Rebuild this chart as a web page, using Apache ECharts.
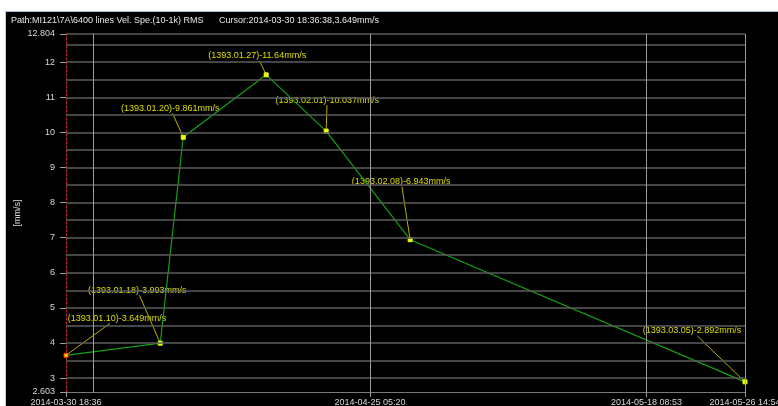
<!DOCTYPE html>
<html>
<head>
<meta charset="utf-8">
<script src="https://cdn.jsdelivr.net/npm/echarts@6/dist/echarts.min.js"></script>
<style>
  html, body { margin: 0; padding: 0; background: #fff; width: 778px; height: 406px; overflow: hidden; }
  #frame { position: absolute; left: 5px; top: 11px; width: 772px; height: 394px;
           border-top: 1px solid #a9c0d8; border-left: 1px solid #c8c8c8; background: #000; }
  #chart { width: 772px; height: 394px; }
</style>
</head>
<body>
<div id="frame"><div id="chart"></div></div>
<script>
// Measurement times (UTC) and RMS velocity readings
const pointTimes  = ['2014-03-30 18:36:38', '2014-04-07 15:58', '2014-04-09 14:10', '2014-04-16 12:50',
                     '2014-04-21 13:20', '2014-04-28 14:06', '2014-05-26 14:54'];
const shamsiDates = ['1393.01.10', '1393.01.18', '1393.01.20', '1393.01.27', '1393.02.01', '1393.02.08', '1393.03.05'];
const rmsValues   = [3.649, 3.993, 9.861, 11.64, 10.037, 6.943, 2.892];

// Axis ranges, ticks and grid lines
const yRange       = [2.603, 12.804];
const yTickValues  = [2.603, 3, 4, 5, 6, 7, 8, 9, 10, 11, 12, 12.804];
const yGridValues  = [3, 3.5, 4, 4.5, 5, 5.5, 6, 6.5, 7, 7.5, 8, 8.5, 9, 9.5, 10, 10.5, 11, 11.5, 12, 12.5];
const xLabelTimes  = ['2014-03-30 18:36:38', '2014-04-25 05:20', '2014-05-18 08:53', '2014-05-26 14:54'];
const xGridTimes   = ['2014-04-02 01:47', '2014-04-25 05:20', '2014-05-18 08:53'];

const headerPath   = 'Path:MI121\\7A\\6400 lines Vel. Spe.(10-1k) RMS';
const headerCursor = 'Cursor:2014-03-30 18:36:38,3.649mm/s';

// Pixel offset of each callout's centre from its point
const calloutShift = [[51, -37], [-23, -53], [-13, -29], [-9, -19], [1, -31], [-9, -58], [-53, -51]];

function toMs(s) {
  const m = s.match(/(\d+)-(\d+)-(\d+) (\d+):(\d+)(?::(\d+))?/);
  return Date.UTC(+m[1], +m[2] - 1, +m[3], +m[4], +m[5], +(m[6] || 0));
}
function pad(n) { return (n < 10 ? '0' : '') + n; }
function fmtTime(ms) {
  const d = new Date(ms);
  return d.getUTCFullYear() + '-' + pad(d.getUTCMonth() + 1) + '-' + pad(d.getUTCDate()) +
         ' ' + pad(d.getUTCHours()) + ':' + pad(d.getUTCMinutes());
}

const xs = pointTimes.map(toMs);
const xMin = xs[0], xMax = xs[xs.length - 1];
const FONT = '"Liberation Sans", Arial, sans-serif';
const CALLOUT_H = 10;

// Callout: text box near the point, with a leader aimed at the text centre
function renderCallout(params, api) {
  const i = api.value(2);
  const p = api.coord([api.value(0), api.value(1)]);
  const s = calloutShift[i];
  const cx = p[0] + s[0], cy = p[1] + s[1];
  const by = cy + CALLOUT_H / 2;
  const t = (p[1] - by) / (p[1] - cy);
  const ex = p[0] + (cx - p[0]) * t;
  return {
    type: 'group',
    children: [
      { type: 'line', shape: { x1: p[0], y1: p[1], x2: ex, y2: by },
        style: { stroke: '#b4b000', lineWidth: 1 } },
      { type: 'text', x: cx, y: cy,
        style: { text: '(' + shamsiDates[i] + ')-' + rmsValues[i] + 'mm/s', fill: '#dede00',
                 font: '9px ' + FONT, align: 'center', verticalAlign: 'middle' } }
    ]
  };
}

const chart = echarts.init(document.getElementById('chart'), null, { renderer: 'canvas' });

chart.setOption({
  backgroundColor: '#000',
  animation: false,
  textStyle: { fontFamily: FONT },
  graphic: [
    { type: 'text', left: 5, top: 4, style: { text: headerPath, fill: '#e6e6e6', font: '9px ' + FONT } },
    { type: 'text', left: 213, top: 4, style: { text: headerCursor, fill: '#e6e6e6', font: '9px ' + FONT } }
  ],
  grid: { left: 60, top: 22, right: 33, bottom: 14, show: false, outerBoundsMode: 'none', containLabel: false },
  xAxis: {
    type: 'value',
    min: xMin, max: xMax,
    splitLine: { show: false },
    axisLine: { show: true, lineStyle: { color: '#7a7a7a', width: 1 } },
    axisTick: { show: true, length: 5, customValues: xLabelTimes.map(toMs), lineStyle: { color: '#9a9a9a' } },
    axisLabel: {
      customValues: xLabelTimes.map(toMs),
      formatter: v => fmtTime(v),
      color: '#d8d8d8', fontSize: 9, margin: 6, fontFamily: FONT
    }
  },
  yAxis: {
    type: 'value',
    min: yRange[0], max: yRange[1],
    name: '[mm/s]', nameLocation: 'middle', nameGap: 44, nameRotate: 90, nameMoveOverlap: false,
    nameTextStyle: { color: '#d8d8d8', fontSize: 9, fontFamily: FONT },
    splitLine: { show: false },
    axisLine: { show: true, lineStyle: { color: '#c0282a', type: [2, 2], width: 1 } },
    axisTick: { show: true, length: 6, customValues: yTickValues, lineStyle: { color: '#9a9a9a' } },
    axisLabel: {
      customValues: yTickValues,
      formatter: v => String(v),
      color: '#d8d8d8', fontSize: 9, margin: 11, fontFamily: FONT
    }
  },
  series: [
    {
      // horizontal grid and top border
      type: 'line', data: [], silent: true, z: 1,
      markLine: {
        silent: true, symbol: ['none', 'none'], label: { show: false }, animation: false,
        lineStyle: { color: '#5c5c5c', width: 1.5, type: 'solid' },
        data: yGridValues.map(v => ({ yAxis: v })).concat([{ yAxis: yRange[1] }])
      }
    },
    {
      // vertical grid and right border
      type: 'line', data: [], silent: true, z: 1,
      markLine: {
        silent: true, symbol: ['none', 'none'], label: { show: false }, animation: false,
        lineStyle: { color: '#9c9c9c', width: 1, type: 'solid' },
        data: xGridTimes.map(t => ({ xAxis: toMs(t) })).concat([{ xAxis: xMax }])
      }
    },
    {
      type: 'custom', z: 2, silent: true,
      renderItem: renderCallout,
      data: xs.map((x, i) => [x, rmsValues[i], i])
    },
    {
      type: 'line', z: 3,
      data: xs.map((x, i) => i === 0
        ? { value: [x, rmsValues[i]], itemStyle: { color: '#ffd400', borderColor: '#ff3000', borderWidth: 1 } }
        : [x, rmsValues[i]]),
      showSymbol: true, symbol: 'rect', symbolSize: 4,
      itemStyle: { color: '#e6ff10', borderColor: '#e6ff10' },
      lineStyle: { color: '#14a014', width: 1.2 }
    }
  ]
});
</script>
</body>
</html>
